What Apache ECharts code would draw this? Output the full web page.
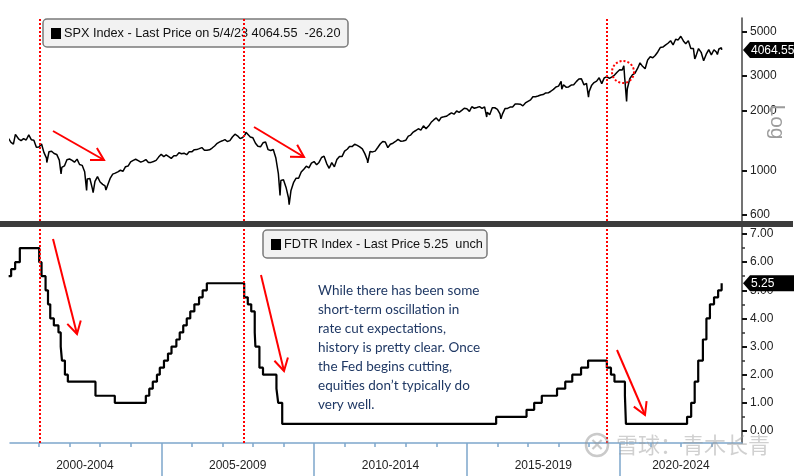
<!DOCTYPE html>
<html>
<head>
<meta charset="utf-8">
<script src="https://cdn.jsdelivr.net/npm/echarts@6/dist/echarts.min.js"></script>
<style>
html, body { margin: 0; padding: 0; background: #fff; }
#chart { width: 800px; height: 476px; }
</style>
</head>
<body>
<div id="chart"></div>
<script>
// SPX month-end closes, first entry = Jan 2000
var spxFirstYear = 2000;
var spxMonthClose = [
  1394, 1366, 1499, 1452, 1421, 1455, 1431, 1518, 1437, 1429, 1315, 1320,
  1366, 1240, 1160, 1249, 1256, 1224, 1211, 1134, 1041, 1060, 1139, 1148,
  1130, 1107, 1147, 1077, 1067, 990, 912, 916, 815, 886, 936, 880,
  856, 841, 848, 917, 964, 975, 990, 1008, 996, 1051, 1058, 1112,
  1131, 1145, 1126, 1107, 1121, 1141, 1102, 1104, 1115, 1130, 1174, 1212,
  1181, 1204, 1181, 1157, 1192, 1191, 1234, 1220, 1229, 1207, 1250, 1248,
  1280, 1281, 1295, 1311, 1270, 1270, 1277, 1304, 1336, 1378, 1401, 1418,
  1438, 1407, 1421, 1482, 1531, 1503, 1455, 1474, 1527, 1549, 1481, 1468,
  1379, 1331, 1323, 1386, 1400, 1280, 1267, 1283, 1166, 969, 896, 903,
  826, 735, 798, 873, 919, 919, 988, 1021, 1057, 1036, 1096, 1115,
  1074, 1104, 1169, 1187, 1089, 1031, 1102, 1049, 1141, 1183, 1181, 1258,
  1286, 1327, 1326, 1364, 1345, 1321, 1292, 1219, 1131, 1253, 1247, 1258,
  1312, 1366, 1408, 1398, 1310, 1362, 1379, 1407, 1441, 1412, 1416, 1426,
  1498, 1515, 1569, 1598, 1631, 1606, 1686, 1633, 1682, 1757, 1806, 1848,
  1783, 1860, 1872, 1884, 1924, 1960, 1931, 2003, 1972, 2018, 2068, 2059,
  1995, 2105, 2068, 2086, 2107, 2063, 2104, 1972, 1920, 2079, 2080, 2044,
  1940, 1932, 2060, 2065, 2097, 2099, 2174, 2171, 2168, 2126, 2199, 2239,
  2279, 2364, 2363, 2384, 2412, 2423, 2470, 2472, 2519, 2575, 2648, 2674,
  2824, 2714, 2641, 2648, 2705, 2718, 2816, 2902, 2914, 2712, 2760, 2507,
  2704, 2785, 2834, 2946, 2752, 2942, 2980, 2926, 2977, 3038, 3141, 3231,
  3226, 2954, 2585, 2912, 3044, 3100, 3271, 3500, 3363, 3270, 3622, 3756,
  3714, 3811, 3973, 4181, 4204, 4298, 4395, 4523, 4308, 4605, 4567, 4766,
  4516, 4374, 4530, 4132, 4132, 3785, 4130, 3955, 3586, 3872, 4080, 3840,
  4077, 3970, 4109, 4169
];
// intra-month highs/lows and the first/last prints
var spxExtraDates = [
  '2000-01-03', '2000-03-24', '2000-09-01', '2001-04-04', '2001-09-21', '2002-07-23',
  '2002-10-09', '2003-03-11', '2007-10-09', '2008-11-20', '2009-03-09', '2010-07-02',
  '2011-10-03', '2015-08-25', '2016-02-11', '2018-02-08', '2018-09-20', '2018-12-24',
  '2020-02-19', '2020-03-23', '2022-01-03', '2022-06-16', '2022-10-12', '2023-03-13',
  '2023-05-04'
];
var spxExtraValues = [
  1455, 1527, 1521, 1103, 966, 798,
  777, 801, 1565, 752, 677, 1023,
  1099, 1868, 1829, 2581, 2931, 2351,
  3386, 2237, 4797, 3667, 3577, 3856,
  4064.55
];

// Fed funds target rate (upper bound) changes
var fdtrDates = [
  '2000-01-03', '2000-02-02', '2000-03-21', '2000-05-16', '2001-01-03', '2001-01-31',
  '2001-03-20', '2001-04-18', '2001-05-15', '2001-06-27', '2001-08-21', '2001-09-17',
  '2001-10-02', '2001-11-06', '2001-12-11', '2002-11-06', '2003-06-25', '2004-06-30',
  '2004-08-10', '2004-09-21', '2004-11-10', '2004-12-14', '2005-02-02', '2005-03-22',
  '2005-05-03', '2005-06-30', '2005-08-09', '2005-09-20', '2005-11-01', '2005-12-13',
  '2006-01-31', '2006-03-28', '2006-05-10', '2006-06-29', '2007-09-18', '2007-10-31',
  '2007-12-11', '2008-01-22', '2008-01-30', '2008-03-18', '2008-04-30', '2008-10-08',
  '2008-10-29', '2008-12-16', '2015-12-16', '2016-12-14', '2017-03-15', '2017-06-14',
  '2017-12-13', '2018-03-21', '2018-06-13', '2018-09-26', '2018-12-19', '2019-07-31',
  '2019-09-18', '2019-10-30', '2020-03-03', '2020-03-15', '2022-03-16', '2022-05-04',
  '2022-06-15', '2022-07-27', '2022-09-21', '2022-11-02', '2022-12-14', '2023-02-01',
  '2023-03-22', '2023-05-03', '2023-05-04'
];
var fdtrValues = [
  5.50, 5.75, 6.00, 6.50, 6.00, 5.50,
  5.00, 4.50, 4.00, 3.75, 3.50, 3.00,
  2.50, 2.00, 1.75, 1.25, 1.00, 1.25,
  1.50, 1.75, 2.00, 2.25, 2.50, 2.75,
  3.00, 3.25, 3.50, 3.75, 4.00, 4.25,
  4.50, 4.75, 5.00, 5.25, 4.75, 4.50,
  4.25, 3.50, 3.00, 2.25, 2.00, 1.50,
  1.00, 0.25, 0.50, 0.75, 1.00, 1.25,
  1.50, 1.75, 2.00, 2.25, 2.50, 2.25,
  2.00, 1.75, 1.25, 0.25, 0.50, 1.00,
  1.75, 2.50, 3.25, 4.00, 4.50, 4.75,
  5.00, 5.25, 5.25
];

// first cut of each easing cycle
var cutDates = ['2001-01-03', '2007-09-18', '2019-07-31'];

var spxTicks = [600, 1000, 2000, 3000, 5000];
var fdtrTicks = [0, 1, 2, 3, 4, 5, 6, 7];
var fdtrMinorTicks = [0.5, 1.5, 2.5, 3.5, 4.5, 5.5, 6.5];
var yearTicks = [2001, 2002, 2003, 2004, 2005, 2006, 2007, 2008, 2009, 2010, 2011, 2012,
  2013, 2014, 2015, 2016, 2017, 2018, 2019, 2020, 2021, 2022, 2023];
var periodBreaks = [2005, 2010, 2015, 2020];
var periodLabels = ['2000-2004', '2005-2009', '2010-2014', '2015-2019', '2020-2024'];
var periodLabelAt = [2002.5, 2007.5, 2012.5, 2017.5, 2022];

var spxLegend = 'SPX Index - Last Price on 5/4/23 4064.55  -26.20';
var fdtrLegend = 'FDTR Index - Last Price 5.25  unch';
var spxLast = 4064.55;
var fdtrLast = 5.25;
var noteLines = [
  'While there has been some',
  'short-term oscillation in',
  'rate cut expectations,',
  'history is pretty clear. Once',
  'the Fed begins cutting,',
  'equities don\u2019t typically do',
  'very well.'
];

function decYear(ms) {
  var y = new Date(ms).getUTCFullYear();
  var a = Date.UTC(y, 0, 1), b = Date.UTC(y + 1, 0, 1);
  return y + (ms - a) / (b - a);
}
function dayMs(s) {
  var p = s.split('-');
  return Date.UTC(+p[0], +p[1] - 1, +p[2]);
}

// build SPX points (x = decimal year, y = log10 price)
var spxPts = [];
spxMonthClose.forEach(function (v, i) {
  var yr = spxFirstYear + Math.floor(i / 12), m = i % 12;
  spxPts.push([decYear(Date.UTC(yr, m + 1, 0)), Math.log10(v)]);
});
spxExtraDates.forEach(function (d, i) {
  spxPts.push([decYear(dayMs(d)), Math.log10(spxExtraValues[i])]);
});
spxPts.sort(function (a, b) { return a[0] - b[0]; });

var fdtrPts = fdtrDates.map(function (d, i) { return [decYear(dayMs(d)), fdtrValues[i]]; });
var cutLines = cutDates.map(function (d) { return { xAxis: decYear(dayMs(d)) }; });

var xMin = 2000.05, xMax = 2024.0;
var font = 'Liberation Sans';
var blue = '#7ea6cc';

var cutMarkLine = {
  silent: true,
  symbol: ['none', 'none'],
  label: { show: false },
  lineStyle: { color: '#ff0000', type: [2, 2], width: 2 },
  data: cutLines
};

var myChart = echarts.init(document.getElementById('chart'));

var option = {
  backgroundColor: '#fff',
  animation: false,
  grid: [
    { left: 10, right: 58, top: 18, height: 203 },
    { left: 10, right: 58, top: 227, height: 216 }
  ],
  xAxis: [
    { type: 'value', gridIndex: 0, min: xMin, max: xMax, show: false },
    {
      type: 'value', gridIndex: 1, min: xMin, max: xMax, position: 'bottom',
      splitLine: { show: false },
      axisLine: { show: true, onZero: false, lineStyle: { color: blue, width: 1.5 } },
      axisTick: { show: true, customValues: yearTicks, length: 4, lineStyle: { color: blue, width: 1.5 } },
      axisLabel: {
        customValues: periodLabelAt, margin: 17, color: '#222', fontFamily: font, fontSize: 12,
        formatter: function (v) { return periodLabels[periodLabelAt.indexOf(v)]; }
      }
    },
    {
      type: 'value', gridIndex: 1, min: xMin, max: xMax, position: 'bottom', offset: 0,
      splitLine: { show: false },
      axisLine: { show: false, onZero: false },
      axisLabel: { show: false },
      axisTick: { show: true, customValues: periodBreaks, length: 33, lineStyle: { color: blue, width: 1.5 } }
    }
  ],
  yAxis: [
    {
      type: 'value', gridIndex: 0, position: 'right', min: 2.748, max: 3.770,
      splitLine: { show: false },
      axisLine: { show: true, onZero: false, lineStyle: { color: '#444', width: 1.5 } },
      axisTick: { show: true, customValues: spxTicks.map(Math.log10), length: 5, lineStyle: { color: '#111', width: 2 } },
      axisLabel: {
        customValues: spxTicks.map(Math.log10), margin: 8, color: '#222', fontFamily: font, fontSize: 12,
        formatter: function (v) { return String(Math.round(Math.pow(10, v))); }
      }
    },
    {
      type: 'value', gridIndex: 1, position: 'right', min: -0.43, max: 7.25,
      splitLine: { show: false },
      axisLine: { show: true, onZero: false, lineStyle: { color: '#444', width: 1.5 } },
      axisTick: { show: true, customValues: fdtrTicks, length: 5, lineStyle: { color: '#111', width: 2 } },
      axisLabel: {
        customValues: fdtrTicks, margin: 8, color: '#222', fontFamily: font, fontSize: 12,
        formatter: function (v) { return v.toFixed(2); }
      }
    },
    {
      type: 'value', gridIndex: 1, position: 'right', offset: 0, min: -0.43, max: 7.25,
      splitLine: { show: false },
      axisLine: { show: false, onZero: false },
      axisLabel: { show: false },
      axisTick: { show: true, customValues: fdtrMinorTicks, length: 3, lineStyle: { color: '#333', width: 1.5 } }
    }
  ],
  series: [
    {
      name: 'SPX', type: 'line', xAxisIndex: 0, yAxisIndex: 0,
      showSymbol: false, symbol: 'none',
      lineStyle: { color: '#000', width: 1.5 },
      data: spxPts,
      markLine: cutMarkLine
    },
    {
      name: 'FDTR', type: 'line', xAxisIndex: 1, yAxisIndex: 1,
      step: 'end', showSymbol: false, symbol: 'none',
      lineStyle: { color: '#000', width: 2.2 },
      data: fdtrPts,
      markLine: cutMarkLine
    }
  ]
};
myChart.setOption(option);

// annotations
function arrow(x1, y1, x2, y2) {
  var ang = Math.atan2(y2 - y1, x2 - x1), L = 14, s = 0.52;
  return [
    { type: 'line', z: 50, shape: { x1: x1, y1: y1, x2: x2, y2: y2 }, style: { stroke: '#ff0000', lineWidth: 2 } },
    { type: 'polyline', z: 50, shape: { points: [
        [x2 - L * Math.cos(ang - s), y2 - L * Math.sin(ang - s)], [x2, y2],
        [x2 - L * Math.cos(ang + s), y2 - L * Math.sin(ang + s)]] },
      style: { stroke: '#ff0000', lineWidth: 2, fill: null } }
  ];
}
function legendBox(x, y, w, text) {
  return [
    { type: 'rect', z: 1, shape: { x: x, y: y, width: w, height: 28, r: 4 },
      style: { fill: '#f2f2f2', stroke: '#7a7a7a', lineWidth: 1.5 } },
    { type: 'rect', z: 1, shape: { x: x + 8, y: y + 9, width: 10, height: 11 }, style: { fill: '#000' } },
    { type: 'text', z: 1, x: x + 21, y: y + 14.5,
      style: { text: text, fill: '#111', font: '12.7px "' + font + '"', verticalAlign: 'middle' } }
  ];
}
function valueTag(y, text) {
  return [
    { type: 'polygon', z: 60, shape: { points: [[743, y], [750, y - 8], [794, y - 8], [794, y + 8], [750, y + 8]] },
      style: { fill: '#000' } },
    { type: 'text', z: 61, x: 751, y: y + 0.5,
      style: { text: text, fill: '#fff', font: '12px "' + font + '"', verticalAlign: 'middle' } }
  ];
}

var ySpxTag = myChart.convertToPixel({ yAxisIndex: 0 }, Math.log10(spxLast));
var yFdtrTag = myChart.convertToPixel({ yAxisIndex: 1 }, fdtrLast);

var g = [];
g.push({ type: 'rect', z: 40, shape: { x: 0, y: 221, width: 793, height: 6 }, style: { fill: '#3c3c3c' } });
g = g.concat(legendBox(43, 19, 305, spxLegend));
g = g.concat(legendBox(263, 230, 224, fdtrLegend));
g = g.concat(arrow(53, 131, 104, 160));
g = g.concat(arrow(254, 127, 304, 157));
g = g.concat(arrow(53, 239, 77, 334));
g = g.concat(arrow(261, 275, 284, 371));
g = g.concat(arrow(617, 350, 645, 415));
g.push({ type: 'circle', z: 50, shape: { cx: 623, cy: 72, r: 11 },
  style: { fill: null, stroke: '#ff0000', lineWidth: 2, lineDash: [2, 2] } });
g.push({ type: 'text', z: 30, x: 318, y: 281, scaleX: 0.965,
  style: { text: noteLines.join('\n'), fill: '#1f3864', font: '14px Lato', lineHeight: 19, verticalAlign: 'top' } });
g.push({ type: 'text', z: 30, x: 777, y: 122, rotation: -Math.PI / 2,
  style: { text: 'Log', fill: '#9c9c9c', font: '21px "' + font + '"', align: 'center', verticalAlign: 'middle' } });
g = g.concat(valueTag(ySpxTag, '4064.55'));
g = g.concat(valueTag(yFdtrTag, '5.25'));
// watermark
g.push({ type: 'circle', z: 70, shape: { cx: 597, cy: 445, r: 11 },
  style: { fill: null, stroke: 'rgba(150,150,150,0.5)', lineWidth: 2.5 } });
g.push({ type: 'text', z: 70, x: 597, y: 445,
  style: { text: '\u00d7', fill: 'rgba(150,150,150,0.5)', font: 'bold 18px "DejaVu Sans"', align: 'center', verticalAlign: 'middle' } });
g.push({ type: 'text', z: 70, x: 616, y: 445,
  style: { text: '雪球：青木长青', fill: 'rgba(150,150,150,0.45)', font: '22px "Noto Sans CJK SC"', verticalAlign: 'middle' } });

myChart.setOption({ graphic: g });
</script>
</body>
</html>
